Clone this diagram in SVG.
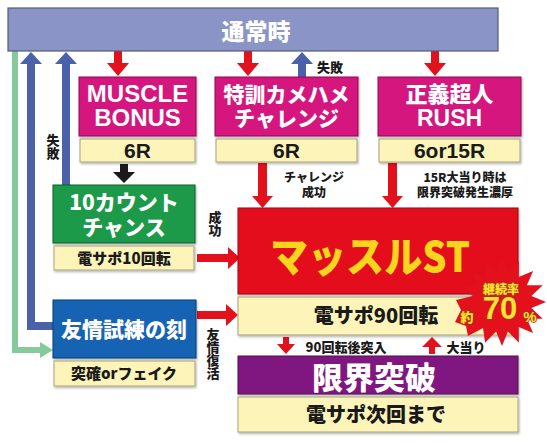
<svg xmlns="http://www.w3.org/2000/svg" width="547" height="443" viewBox="0 0 547 443">
<defs>
<filter id="sh" x="-5%" y="-10%" width="115%" height="130%"><feDropShadow dx="1" dy="1.5" stdDeviation="1" flood-color="#000" flood-opacity="0.3"/></filter>
</defs>
<style>
text{font-family:"Noto Sans CJK JP","Noto Sans",sans-serif;font-weight:900;text-anchor:middle}
.w{fill:#fff}
.d{fill:#1a1a1a}
.lat{font-family:"Liberation Sans",sans-serif;font-weight:bold}
.mag{fill:#d4157e;stroke:#8e0f55;stroke-width:1}
.cream{fill:#fcf4b8;stroke:#a8a27a;stroke-width:1}
.red{fill:#e3111c}
.blue{fill:#4b62ab}
.green{fill:#86c99a}
.lbl{font-size:13px;fill:#1a1a1a}
.v{font-size:13px;fill:#1a1a1a;writing-mode:vertical-rl;text-anchor:start}
.y{fill:#ffe033;stroke:#a8300c;stroke-width:1.6px;paint-order:stroke;stroke-linejoin:round}
</style>
<rect width="547" height="443" fill="#fff"/>

<g id="connectors">
<path class="green" d="M12,51 H18 V347 H40 V342 L53,350 L40,358 V353 H12 Z"/>
<path class="blue" d="M27,64 H20 L31,52 L42,64 H35 V322 H53 V330 H27 Z"/>
<path class="blue" d="M62,64 H55 L66,52 L77,64 H70 V185 H62 Z"/>
<path class="red" d="M114,51 H122 V63 H129 L118,76 L107,63 H114 Z"/>
<path class="red" d="M244,51 H252 V63 H259 L248,76 L237,63 H244 Z"/>
<path class="red" d="M431,51 H439 V63 H446 L435,76 L424,63 H431 Z"/>
<path class="blue" d="M298,77 V64 H291 L302,52 L313,64 H306 V77 Z"/>
<path fill="#1a1a1a" d="M120,164 H128 V172 H135 L124,183 L113,172 H120 Z"/>
<path class="red" d="M258,163 H267 V196 H273 L262.5,208 L252,196 H258 Z"/>
<path class="red" d="M388,163 H397 V196 H403 L392.5,208 L382,196 H388 Z"/>
<path class="red" d="M197,254 H228 V247 L240,258 L228,269 V262 H197 Z"/>
<path class="red" d="M197,311 H226 V304 L238,315 L226,326 V319 H197 Z"/>
<path class="red" d="M283,337 H289 V344 H295 L286,354 L277,344 H283 Z"/>
<path class="red" d="M429,354 V347 H422 L432,337 L442,347 H435 V354 Z"/>
</g>

<g id="n-normal">
<rect x="8" y="8" width="490" height="43" fill="#8b94c6" stroke="#555b78" stroke-width="1.2"/>
<text x="256" y="40" font-size="23" class="w">通常時</text>
</g>
<text x="330" y="72" class="lbl">失敗</text>

<g id="n-muscle">
<rect x="79" y="77" width="117" height="59" class="mag" filter="url(#sh)"/>
<text font-size="24" class="w lat"><tspan x="137.5" y="102">MUSCLE</tspan><tspan x="137.5" y="126">BONUS</tspan></text>
<rect x="80" y="139" width="115" height="23" class="cream" filter="url(#sh)"/>
<text x="137.5" y="158" font-size="21" class="d lat">6R</text>
</g>

<g id="n-kamehame">
<rect x="215" y="77" width="143" height="59" class="mag" filter="url(#sh)"/>
<text font-size="21" class="w"><tspan x="286.5" y="102">特訓カメハメ</tspan><tspan x="286.5" y="126">チャレンジ</tspan></text>
<rect x="216" y="139" width="141" height="23" class="cream" filter="url(#sh)"/>
<text x="286.5" y="158" font-size="21" class="d lat">6R</text>
</g>

<g id="n-rush">
<rect x="378" y="77" width="143" height="59" class="mag" filter="url(#sh)"/>
<text class="w"><tspan x="449.5" y="102" font-size="22">正義超人</tspan><tspan x="449.5" y="126" font-size="23" class="lat">RUSH</tspan></text>
<rect x="379" y="139" width="141" height="23" class="cream" filter="url(#sh)"/>
<text x="449.5" y="158" font-size="21" class="d lat">6or15R</text>
</g>

<text x="53" y="134" class="v">失敗</text>

<text font-size="12" class="d"><tspan x="314" y="182">チャレンジ</tspan><tspan x="314" y="197">成功</tspan></text>
<text font-size="12" class="d"><tspan x="465" y="182">15R大当り時は</tspan><tspan x="465" y="197">限界突破発生濃厚</tspan></text>

<g id="n-10count">
<rect x="53" y="185" width="142" height="58" fill="#1f9a4a" stroke="#145f30" stroke-width="1" filter="url(#sh)"/>
<text font-size="21" class="w"><tspan x="124" y="210">10カウント</tspan><tspan x="124" y="235">チャンス</tspan></text>
<rect x="54" y="246" width="140" height="24" class="cream" filter="url(#sh)"/>
<text x="124" y="264" font-size="15" class="d">電サポ10回転</text>
</g>

<text x="215" y="211" class="v">成功</text>

<g id="n-yujo">
<rect x="53" y="300" width="143" height="58" fill="#1464b4" stroke="#0d3f73" stroke-width="1" filter="url(#sh)"/>
<text x="124" y="337" font-size="21" class="w">友情試練の刻</text>
<rect x="54" y="361" width="141" height="25" class="cream" filter="url(#sh)"/>
<text x="124" y="379" font-size="15" class="d">突確orフェイク</text>
</g>

<text x="213" y="328" class="v">友情復活</text>

<g id="n-musclest">
<rect x="238" y="208" width="280" height="86" fill="#e3111c" stroke="#9b0a10" stroke-width="1" filter="url(#sh)"/>
<text x="370" y="272" font-size="42" fill="#f9d51e" textLength="200" lengthAdjust="spacingAndGlyphs">マッスルST</text>
<rect x="238" y="297" width="280" height="38" class="cream" filter="url(#sh)"/>
<text x="376" y="323" font-size="20" class="d">電サポ90回転</text>
</g>

<text x="346" y="352" class="lbl">90回転後突入</text>
<text x="466" y="352" class="lbl">大当り</text>

<g id="n-genkai">
<rect x="238" y="356" width="280" height="38" fill="#80197f" stroke="#4d0e4c" stroke-width="1" filter="url(#sh)"/>
<text x="374" y="389" font-size="31" class="w">限界突破</text>
<rect x="238" y="397" width="280" height="35" class="cream" filter="url(#sh)"/>
<text x="376" y="422" font-size="20" class="d">電サポ次回まで</text>
</g>

<g id="badge">
<polygon fill="#e3111c" points="546,302 531.4,307.9 542.7,318.8 526.9,318.7 533.1,333.1 518.7,326.9 518.9,342.7 507.9,331.4 502,346 496.1,331.4 485.1,342.7 483,328 468,336 466,326 455,322 461,310 456,300 472.6,296.1 461.3,285.2 477.1,285.3 470.9,270.9 485.3,277.1 485.1,261.3 496.1,272.6 502,258 507.9,272.6 518.9,261.3 518.7,277.1 533.1,270.9 526.9,285.3 542.7,285.2 531.4,296.1"/>
<text class="y"><tspan x="501" y="294" font-size="12">継続率</tspan><tspan x="467" y="322" font-size="13">約</tspan><tspan x="500" y="319" font-size="31" class="lat">70</tspan><tspan x="530" y="322" font-size="15" class="lat">%</tspan></text>
</g>
</svg>
